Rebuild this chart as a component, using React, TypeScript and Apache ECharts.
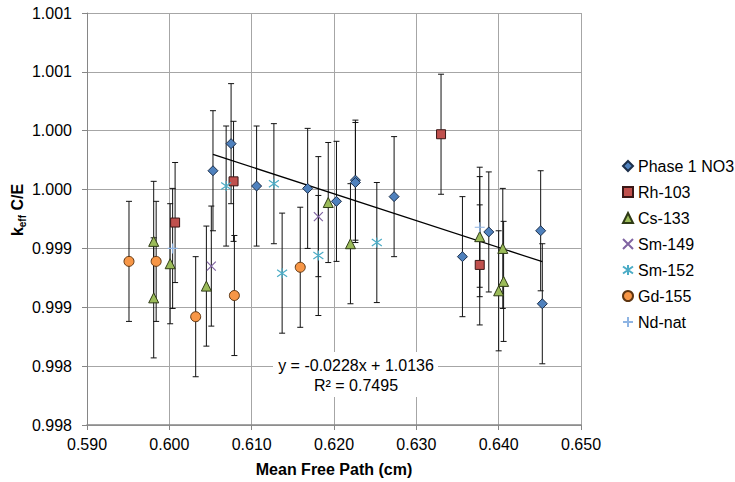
import React, { useEffect, useRef } from 'react';
import * as echarts from 'echarts';

// ---------- data ----------
const phaseX = [0.6053, 0.6075, 0.6106, 0.6168, 0.6203, 0.6226, 0.6226, 0.6273, 0.6356, 0.6388, 0.6451, 0.6453];
const phaseY = [0.99966, 0.99989, 0.99953, 0.99951, 0.9994, 0.99958, 0.99956, 0.99944, 0.99893, 0.99914, 0.99915, 0.99853];

const rhX = [0.6007, 0.6078, 0.633, 0.6377];
const rhY = [0.99922, 0.99957, 0.99997, 0.99886];

const csX = [0.5981, 0.5981, 0.6001, 0.6045, 0.6193, 0.622, 0.6377, 0.6405, 0.6406, 0.64];
const csY = [0.99906, 0.99858, 0.99887, 0.99868, 0.99939, 0.99904, 0.9991, 0.999, 0.99872, 0.99864];

const sm149X = [0.6051, 0.6181];
const sm149Y = [0.99885, 0.99927];

const sm152X = [0.6069, 0.6127, 0.6137, 0.6181, 0.6252];
const sm152Y = [0.99953, 0.99955, 0.99879, 0.99894, 0.99905];

const gdX = [0.5951, 0.5984, 0.6032, 0.6079, 0.6159];
const gdY = [0.99889, 0.99889, 0.99842, 0.9986, 0.99884];

const ndX = [0.6004, 0.6377];
const ndY = [0.999, 0.99918];

const ERR = 0.00051;

const seriesNames = ['Phase 1 NO3', 'Rh-103', 'Cs-133', 'Sm-149', 'Sm-152', 'Gd-155', 'Nd-nat'];

const yTickLabels = ['0.998', '0.998', '0.999', '0.999', '1.000', '1.000', '1.001', '1.001'];
const Y_MIN = 0.9975;
const Y_MAX = 1.001;
const Y_STEP = 0.0005;
const X_MIN = 0.59;
const X_MAX = 0.65;
const X_STEP = 0.01;

// trendline (Phase 1 NO3) as shown: y = -0.0228x + 1.0136
const trendSlope = -0.0228;
const trendIntercept = 1.0136;
const trendXRange = [0.6053, 0.6453];
const trendText1 = 'y = -0.0228x + 1.0136';
const trendText2 = 'R\u00b2 = 0.7495';

const FONT = '"Liberation Sans", Arial, sans-serif';

const pairs = (xs: number[], ys: number[]) => xs.map((x, i) => [x, ys[i]]);

const X_PATH = 'path://M0,0L10,10M10,0L0,10';
const STAR_PATH = 'path://M0,1.5L10,8.5M10,1.5L0,8.5M5,0L5,10';
const PLUS_PATH = 'path://M0,5L10,5M5,0L5,10';

export default function App() {
  const ref = useRef<HTMLDivElement>(null);

  useEffect(() => {
    const chart = echarts.init(ref.current!, null, { renderer: 'svg' });

    const allSets = [
      [phaseX, phaseY],
      [rhX, rhY],
      [csX, csY],
      [sm149X, sm149Y],
      [sm152X, sm152Y],
      [gdX, gdY],
      [ndX, ndY],
    ];
    const errData: number[][] = [];
    allSets.forEach(([xs, ys]) => {
      xs.forEach((x, i) => errData.push([x, ys[i] - ERR, ys[i] + ERR]));
    });

    const trendData = trendXRange.map((x) => [x, trendSlope * x + trendIntercept]);

    const scatterBase = { type: 'scatter', z: 4 };

    const option: any = {
      animation: false,
      textStyle: { fontFamily: FONT },
      grid: { left: 87, top: 13, right: 154, bottom: 55, containLabel: false },
      xAxis: {
        type: 'value',
        min: X_MIN,
        max: X_MAX,
        interval: X_STEP,
        name: 'Mean Free Path (cm)',
        nameLocation: 'middle',
        nameGap: 36,
        nameTextStyle: { fontSize: 16, fontWeight: 'bold', color: '#000', fontFamily: FONT },
        axisLine: { show: true, onZero: false, lineStyle: { color: '#868686', width: 1.5 } },
        axisTick: { show: true, length: 5, lineStyle: { color: '#868686' } },
        axisLabel: {
          fontSize: 16,
          color: '#000',
          margin: 11,
          fontFamily: FONT,
          formatter: (v: number) => v.toFixed(3),
        },
        splitLine: { show: true, lineStyle: { color: '#a6a6a6', width: 1 } },
      },
      yAxis: {
        type: 'value',
        min: Y_MIN,
        max: Y_MAX,
        interval: Y_STEP,
        axisLine: { show: true, onZero: false, lineStyle: { color: '#868686', width: 1 } },
        axisTick: { show: true, length: 5, lineStyle: { color: '#868686' } },
        axisLabel: {
          fontSize: 16,
          color: '#000',
          margin: 15,
          fontFamily: FONT,
          formatter: (v: number) => yTickLabels[Math.round((v - Y_MIN) / Y_STEP)] ?? '',
        },
        splitLine: { show: true, lineStyle: { color: '#a6a6a6', width: 1 } },
      },
      legend: {
        orient: 'vertical',
        left: 622,
        top: 158,
        padding: 0,
        itemWidth: 10,
        itemHeight: 10,
        itemGap: 10,
        data: seriesNames,
        textStyle: { fontSize: 16, color: '#000', fontFamily: FONT, lineHeight: 16 },
      },
      graphic: [
        {
          type: 'text',
          x: 17,
          y: 210,
          rotation: Math.PI / 2,
          style: {
            text: '{m|k}{s|eff}{m| C/E}',
            align: 'center',
            verticalAlign: 'middle',
            rich: {
              m: { fontSize: 16, fontWeight: 'bold', fontFamily: FONT, fill: '#000', lineHeight: 20 },
              s: { fontSize: 10, fontWeight: 'bold', fontFamily: FONT, fill: '#000', lineHeight: 10, verticalAlign: 'bottom' },
            },
          },
        },
        {
          type: 'rect',
          shape: { x: 273, y: 352, width: 165, height: 45 },
          style: { fill: '#fff' },
          z: 10,
        },
        {
          type: 'text',
          x: 356,
          y: 365,
          z: 11,
          style: { text: trendText1, align: 'center', verticalAlign: 'middle', fontSize: 16, fontFamily: FONT, fill: '#000' },
        },
        {
          type: 'text',
          x: 356,
          y: 385,
          z: 11,
          style: { text: trendText2, align: 'center', verticalAlign: 'middle', fontSize: 16, fontFamily: FONT, fill: '#000' },
        },
      ],
      series: [
        {
          type: 'custom',
          name: 'errors',
          z: 2,
          silent: true,
          encode: { x: 0, y: [1, 2] },
          data: errData,
          renderItem: (params: any, api: any) => {
            const x = api.value(0);
            const lo = api.value(1);
            const hi = api.value(2);
            const pTop = api.coord([x, hi]);
            const pBot = api.coord([x, lo]);
            const cap = 3;
            const st = { stroke: '#111', lineWidth: 1 };
            return {
              type: 'group',
              children: [
                { type: 'line', shape: { x1: pTop[0], y1: pTop[1], x2: pBot[0], y2: pBot[1] }, style: st },
                { type: 'line', shape: { x1: pTop[0] - cap, y1: pTop[1], x2: pTop[0] + cap, y2: pTop[1] }, style: st },
                { type: 'line', shape: { x1: pBot[0] - cap, y1: pBot[1], x2: pBot[0] + cap, y2: pBot[1] }, style: st },
              ],
            };
          },
        },
        {
          type: 'line',
          name: 'trend',
          z: 3,
          data: trendData,
          showSymbol: false,
          symbol: 'none',
          silent: true,
          lineStyle: { color: '#000', width: 1.25 },
        },
        {
          ...scatterBase,
          name: 'Phase 1 NO3',
          symbol: 'diamond',
          symbolSize: 10,
          data: pairs(phaseX, phaseY),
          itemStyle: { color: '#4F81BD', borderColor: '#1c2f4a', borderWidth: 1, opacity: 1 },
        },
        {
          ...scatterBase,
          name: 'Rh-103',
          symbol: 'rect',
          symbolSize: 9,
          data: pairs(rhX, rhY),
          itemStyle: { color: '#C0504D', borderColor: '#3a1716', borderWidth: 1, opacity: 1 },
        },
        {
          ...scatterBase,
          name: 'Cs-133',
          symbol: 'triangle',
          symbolSize: 10,
          data: pairs(csX, csY),
          itemStyle: { color: '#9BBB59', borderColor: '#2e3a15', borderWidth: 1, opacity: 1 },
        },
        {
          ...scatterBase,
          name: 'Sm-149',
          symbol: X_PATH,
          symbolSize: 9,
          data: pairs(sm149X, sm149Y),
          itemStyle: { color: 'transparent', borderColor: '#8064A2', borderWidth: 1.2, opacity: 1 },
        },
        {
          ...scatterBase,
          name: 'Sm-152',
          symbol: STAR_PATH,
          symbolSize: 10,
          data: pairs(sm152X, sm152Y),
          itemStyle: { color: 'transparent', borderColor: '#4BACC6', borderWidth: 1.2, opacity: 1 },
        },
        {
          ...scatterBase,
          name: 'Gd-155',
          symbol: 'circle',
          symbolSize: 10,
          data: pairs(gdX, gdY),
          itemStyle: { color: '#F79646', borderColor: '#5e3510', borderWidth: 1, opacity: 1 },
        },
        {
          ...scatterBase,
          name: 'Nd-nat',
          symbol: PLUS_PATH,
          symbolSize: 10,
          data: pairs(ndX, ndY),
          itemStyle: { color: 'transparent', borderColor: '#8EB4E3', borderWidth: 1.2, opacity: 1 },
        },
      ],
    };

    chart.setOption(option);
    return () => chart.dispose();
  }, []);

  return (
    <div
      ref={ref}
      style={{ width: 735, height: 482, position: 'fixed', left: 0, top: 0, background: '#fff' }}
    />
  );
}
